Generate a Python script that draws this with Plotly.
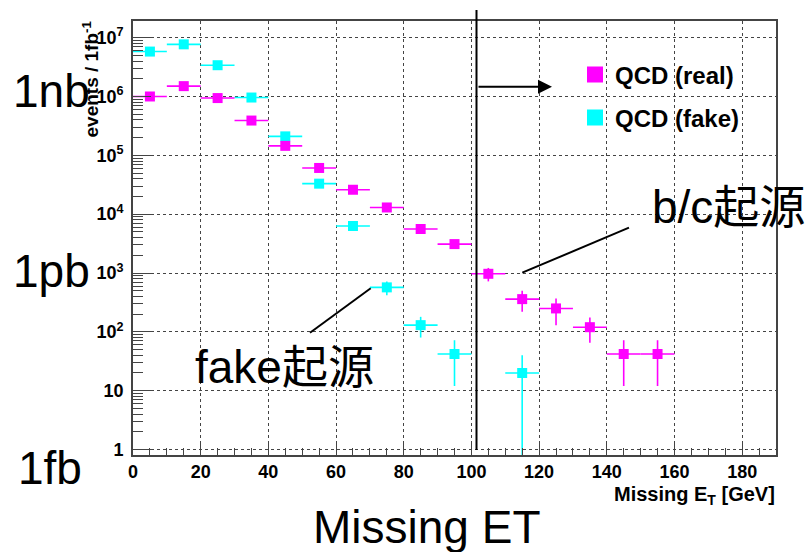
import plotly.graph_objects as go

# ---------------- data ----------------
real_x = [5, 15, 25, 35, 45, 55, 65, 75, 85, 95, 105, 115, 125, 135, 145, 155]
real_y = [1.0e6, 1.5e6, 9.4e5, 3.9e5, 1.45e5, 6.1e4, 2.6e4, 1.3e4, 5.6e3, 3.1e3,
          9.7e2, 3.6e2, 2.5e2, 1.2e2, 42, 42]
real_err = [2e4, 3e4, 2e4, 1.5e4, 8e3, 4e3, 2.5e3, 1.5e3, 8e2, 5e2,
            250, 140, 120, 55, 30, 30]

fake_x = [5, 15, 25, 35, 45, 55, 65, 75, 85, 95, 115]
fake_y = [5.8e6, 7.7e6, 3.4e6, 9.6e5, 2.1e5, 3.3e4, 6.3e3, 5.7e2, 1.3e2, 42, 20]
fake_err = [3e5, 4e5, 2e5, 6e4, 2e4, 4e3, 1e3, 150, 50, 30, 20]

bin_half_width = 5
cut_x = 101.5

x_ticks = [0, 20, 40, 60, 80, 100, 120, 140, 160, 180]
y_ticks = [1, 10, 1e2, 1e3, 1e4, 1e5, 1e6, 1e7]
y_ticktext = ["1", "10", "10<sup>2</sup>", "10<sup>3</sup>", "10<sup>4</sup>",
              "10<sup>5</sup>", "10<sup>6</sup>", "10<sup>7</sup>"]

MAG = "#ff00ff"
CYA = "#00ffff"
AX = "#444444"

# ---------------- layout geometry ----------------
W, H = 810, 552
ML, MR, MT, MB = 133, 34, 21, 97
PW, PH = W - ML - MR, H - MT - MB


def px(x):
    return (x - ML) / PW


def py(y):
    return (H - MB - y) / PH


fig = go.Figure()

fig.add_trace(go.Scatter(
    x=fake_x, y=fake_y, mode="markers", showlegend=False,
    marker=dict(symbol="square", size=10, color=CYA),
    error_y=dict(type="data", array=fake_err, color=CYA, thickness=1.6, width=0),
    error_x=dict(type="constant", value=bin_half_width, color=CYA, thickness=1.6, width=0),
))
fig.add_trace(go.Scatter(
    x=real_x, y=real_y, mode="markers", showlegend=False,
    marker=dict(symbol="square", size=10, color=MAG),
    error_y=dict(type="data", array=real_err, color=MAG, thickness=1.6, width=0),
    error_x=dict(type="constant", value=bin_half_width, color=MAG, thickness=1.6, width=0),
))

# legend entries
fig.add_trace(go.Scatter(x=[None], y=[None], mode="markers", name="QCD (real)",
                         marker=dict(symbol="square", size=18, color=MAG), legend="legend"))
fig.add_trace(go.Scatter(x=[None], y=[None], mode="markers", name="QCD (fake)",
                         marker=dict(symbol="square", size=18, color=CYA), legend="legend2"))

leg_font = dict(family="Liberation Sans, Arial", size=24, color="black", weight="bold")
fig.update_layout(
    legend=dict(x=px(575), y=py(75), xanchor="left", yanchor="middle",
                bgcolor="rgba(0,0,0,0)", font=leg_font),
    legend2=dict(x=px(575), y=py(118), xanchor="left", yanchor="middle",
                 bgcolor="rgba(0,0,0,0)", font=leg_font),
)

tick_font = dict(family="Liberation Sans, Arial", size=18, color="black", weight="bold")

fig.update_xaxes(
    range=[0, 190], tickmode="array", tickvals=x_ticks,
    ticks="inside", ticklen=13, tickwidth=1.3, tickcolor=AX,
    showline=True, linecolor=AX, linewidth=1.6, mirror=True,
    showgrid=True, gridcolor=AX, griddash="dot", gridwidth=1,
    zeroline=False, tickfont=tick_font,
    minor=dict(tickmode="array", tickvals=[v for v in range(0, 191, 5) if v % 20],
               ticks="inside", ticklen=7, tickwidth=1.2, tickcolor=AX, showgrid=False),
)

minor_y = [m * 10 ** e for e in range(0, 8) for m in range(2, 10)]
fig.update_yaxes(
    type="log", range=[-0.093, 7.283], tickmode="array",
    tickvals=y_ticks, ticktext=y_ticktext,
    ticks="inside", ticklen=18, tickwidth=1.3, tickcolor=AX,
    showline=True, linecolor=AX, linewidth=1.6, mirror=True,
    showgrid=True, gridcolor=AX, griddash="dot", gridwidth=1,
    zeroline=False, tickfont=tick_font, ticklabelstandoff=4,
    minor=dict(tickmode="array", tickvals=minor_y,
               ticks="inside", ticklen=10, tickwidth=1.2, tickcolor=AX, showgrid=False),
)

big = dict(family="Liberation Sans, Noto Sans CJK JP, Arial", size=46, color="black")
bold19 = dict(family="Liberation Sans, Arial", size=19, color="black", weight="bold")
bold20 = dict(family="Liberation Sans, Arial", size=20, color="black", weight="bold")

annotations = [
    dict(text="1nb", x=px(11), y=py(91), xanchor="left", yanchor="middle", font=big),
    dict(text="1pb", x=px(11), y=py(271), xanchor="left", yanchor="middle", font=big),
    dict(text="1fb", x=px(16), y=py(468), xanchor="left", yanchor="middle", font=big),
    dict(text="Missing ET", x=px(311), y=py(527), xanchor="left", yanchor="middle", font=big),
    dict(text="b/c起源", x=px(650), y=py(207), xanchor="left", yanchor="middle", font=big),
    dict(text="fake起源", x=px(193), y=py(367), xanchor="left", yanchor="middle", font=big),
    dict(text="events / 1fb<sup>-1</sup>", x=px(91), y=py(19), xanchor="center", yanchor="top",
         textangle=-90, font=bold19),
    dict(text="Missing E<sub>T</sub> [GeV]", x=px(777), y=py(495), xanchor="right",
         yanchor="middle", font=bold20),
    dict(text="", x=px(552), y=py(86.7), ax=-75, ay=0, showarrow=True,
         arrowhead=2, arrowsize=1.4, arrowwidth=2, arrowcolor="black"),
]
for a in annotations:
    a.setdefault("showarrow", False)
    a["xref"] = "paper"
    a["yref"] = "paper"
fig.update_layout(annotations=annotations)

shapes = [
    dict(type="line", xref="x", yref="paper", x0=cut_x, x1=cut_x, y0=py(450), y1=py(10),
         line=dict(color="black", width=2)),
    dict(type="line", xref="paper", yref="paper", x0=px(310), y0=py(332.7), x1=px(370.7), y1=py(288.3),
         line=dict(color="black", width=2)),
    dict(type="line", xref="paper", yref="paper", x0=px(522.3), y0=py(272.7), x1=px(629), y1=py(227.7),
         line=dict(color="black", width=2)),
]
fig.update_layout(shapes=shapes)

fig.update_layout(
    width=W, height=H, margin=dict(l=ML, r=MR, t=MT, b=MB, pad=0),
    plot_bgcolor="white", paper_bgcolor="white",
)

fig.write_html("out.html")
